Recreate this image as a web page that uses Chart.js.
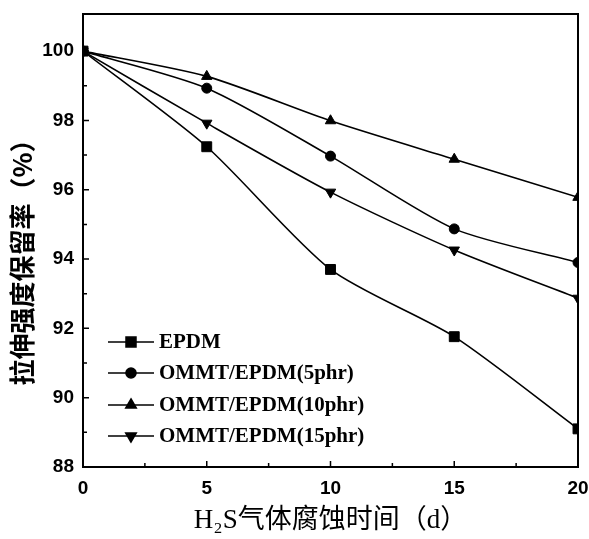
<!DOCTYPE html>
<html>
<head>
<meta charset="utf-8">
<script src="https://cdn.jsdelivr.net/npm/chart.js@4.4.0/dist/chart.umd.min.js"></script>
<style>
  body { margin: 0; background: #fff; }
  #wrap { width: 589px; height: 539px; }
</style>
</head>
<body>
<div id="wrap"><canvas id="myChart" width="589" height="539"></canvas></div>
<script>
// corrosion time (days)
const days = [0, 5, 10, 15, 20];
// retention of tensile strength (%)
const epdm = [100, 97.24, 93.7, 91.76, 89.1];
const ommt5 = [100, 98.93, 96.97, 94.87, 93.9];
const ommt10 = [100, 99.27, 97.99, 96.88, 95.78];
const ommt15 = [100, 97.92, 95.93, 94.26, 92.87];
const seriesNames = ['EPDM', 'OMMT/EPDM(5phr)', 'OMMT/EPDM(10phr)', 'OMMT/EPDM(15phr)'];
const markers = ['rect', 'circle', 'triangle', 'triangle'];
const yTicks = [88, 90, 92, 94, 96, 98, 100];
const xTicks = [0, 5, 10, 15, 20];
const yTitle = '拉伸强度保留率（%）';

const seriesValues = [epdm, ommt5, ommt10, ommt15];
const radii = [7, 5, 6, 6];

const datasets = seriesValues.map((vals, i) => ({
  label: seriesNames[i],
  data: days.map((d, j) => ({ x: d, y: vals[j] })),
  borderColor: '#000',
  backgroundColor: '#000',
  borderWidth: 1.6,
  pointStyle: markers[i],
  pointRotation: i === 3 ? 180 : 0,
  pointRadius: radii[i],
  pointBorderWidth: 1,
  tension: 0.25,
  clip: 0
}));

// inward ticks, frame, y title and legend
const decor = {
  id: 'decor',
  afterDraw(chart) {
    const ctx = chart.ctx;
    const a = chart.chartArea;
    const xs = chart.scales.x, ys = chart.scales.y;
    ctx.save();
    ctx.strokeStyle = '#000';
    ctx.lineWidth = 2;
    ctx.strokeRect(a.left, a.top, a.right - a.left, a.bottom - a.top);
    ctx.lineWidth = 1.5;
    ctx.beginPath();
    for (let v = 0; v <= 20; v += 2.5) {
      const px = xs.getPixelForValue(v);
      const len = v % 5 === 0 ? 6 : 4;
      ctx.moveTo(px, a.bottom);
      ctx.lineTo(px, a.bottom - len);
    }
    for (let v = 88; v <= 100; v += 1) {
      const py = ys.getPixelForValue(v);
      const len = v % 2 === 0 ? 6 : 4;
      ctx.moveTo(a.left, py);
      ctx.lineTo(a.left + len, py);
    }
    ctx.stroke();

    // y title, rotated
    ctx.save();
    ctx.translate(22, 256);
    ctx.rotate(-Math.PI / 2);
    ctx.font = 'bold 26px "Noto Sans CJK SC", sans-serif';
    ctx.textAlign = 'center';
    ctx.textBaseline = 'middle';
    ctx.fillStyle = '#000';
    ctx.fillText(yTitle, 0, 0);
    ctx.restore();

    // legend
    const x0 = a.left + 25, x1 = a.left + 71;
    const rowY = [342, 373, 405, 436];
    ctx.font = 'bold 21px "Liberation Serif", "Times New Roman", serif';
    ctx.textBaseline = 'middle';
    ctx.fillStyle = '#000';
    chart.data.datasets.forEach((ds, i) => {
      const y = rowY[i];
      ctx.lineWidth = 1.6;
      ctx.beginPath();
      ctx.moveTo(x0, y);
      ctx.lineTo(x1, y);
      ctx.stroke();
      Chart.helpers.drawPoint(ctx, {
        pointStyle: ds.pointStyle,
        rotation: ds.pointRotation,
        radius: ds.pointRadius,
        borderWidth: 1
      }, (x0 + x1) / 2, y);
      ctx.fillText(ds.label, x1 + 5, y + 1);
    });
    ctx.restore();
  }
};

new Chart(document.getElementById('myChart'), {
  type: 'line',
  data: { datasets },
  plugins: [decor],
  options: {
    responsive: false,
    animation: false,
    layout: { padding: { top: 14, right: 11, left: 0, bottom: 0 } },
    plugins: { legend: { display: false }, tooltip: { enabled: false } },
    scales: {
      x: {
        type: 'linear',
        min: 0,
        max: 20,
        afterBuildTicks: s => { s.ticks = xTicks.map(v => ({ value: v })); },
        afterFit: s => { s.height = 72; s.paddingLeft = 0; s.paddingRight = 0; },
        grid: { display: false },
        border: { display: false },
        ticks: {
          padding: 2,
          maxRotation: 0,
          color: '#000',
          font: { family: '"Liberation Sans", Arial, sans-serif', size: 19, weight: 'bold' }
        },
        title: {
          display: true,
          text: 'H\u2082S气体腐蚀时间（d）',
          color: '#000',
          padding: { top: 2, bottom: 2 },
          font: { family: '"Liberation Serif", "Noto Sans CJK SC", serif', size: 27 }
        }
      },
      y: {
        min: 88,
        max: 101.07,
        afterBuildTicks: s => { s.ticks = yTicks.map(v => ({ value: v })); },
        afterFit: s => { s.width = 83; s.paddingTop = 0; s.paddingBottom = 0; },
        grid: { display: false },
        border: { display: false },
        ticks: {
          padding: 1,
          color: '#000',
          font: { family: '"Liberation Sans", Arial, sans-serif', size: 19, weight: 'bold' }
        }
      }
    }
  }
});
</script>
</body>
</html>
